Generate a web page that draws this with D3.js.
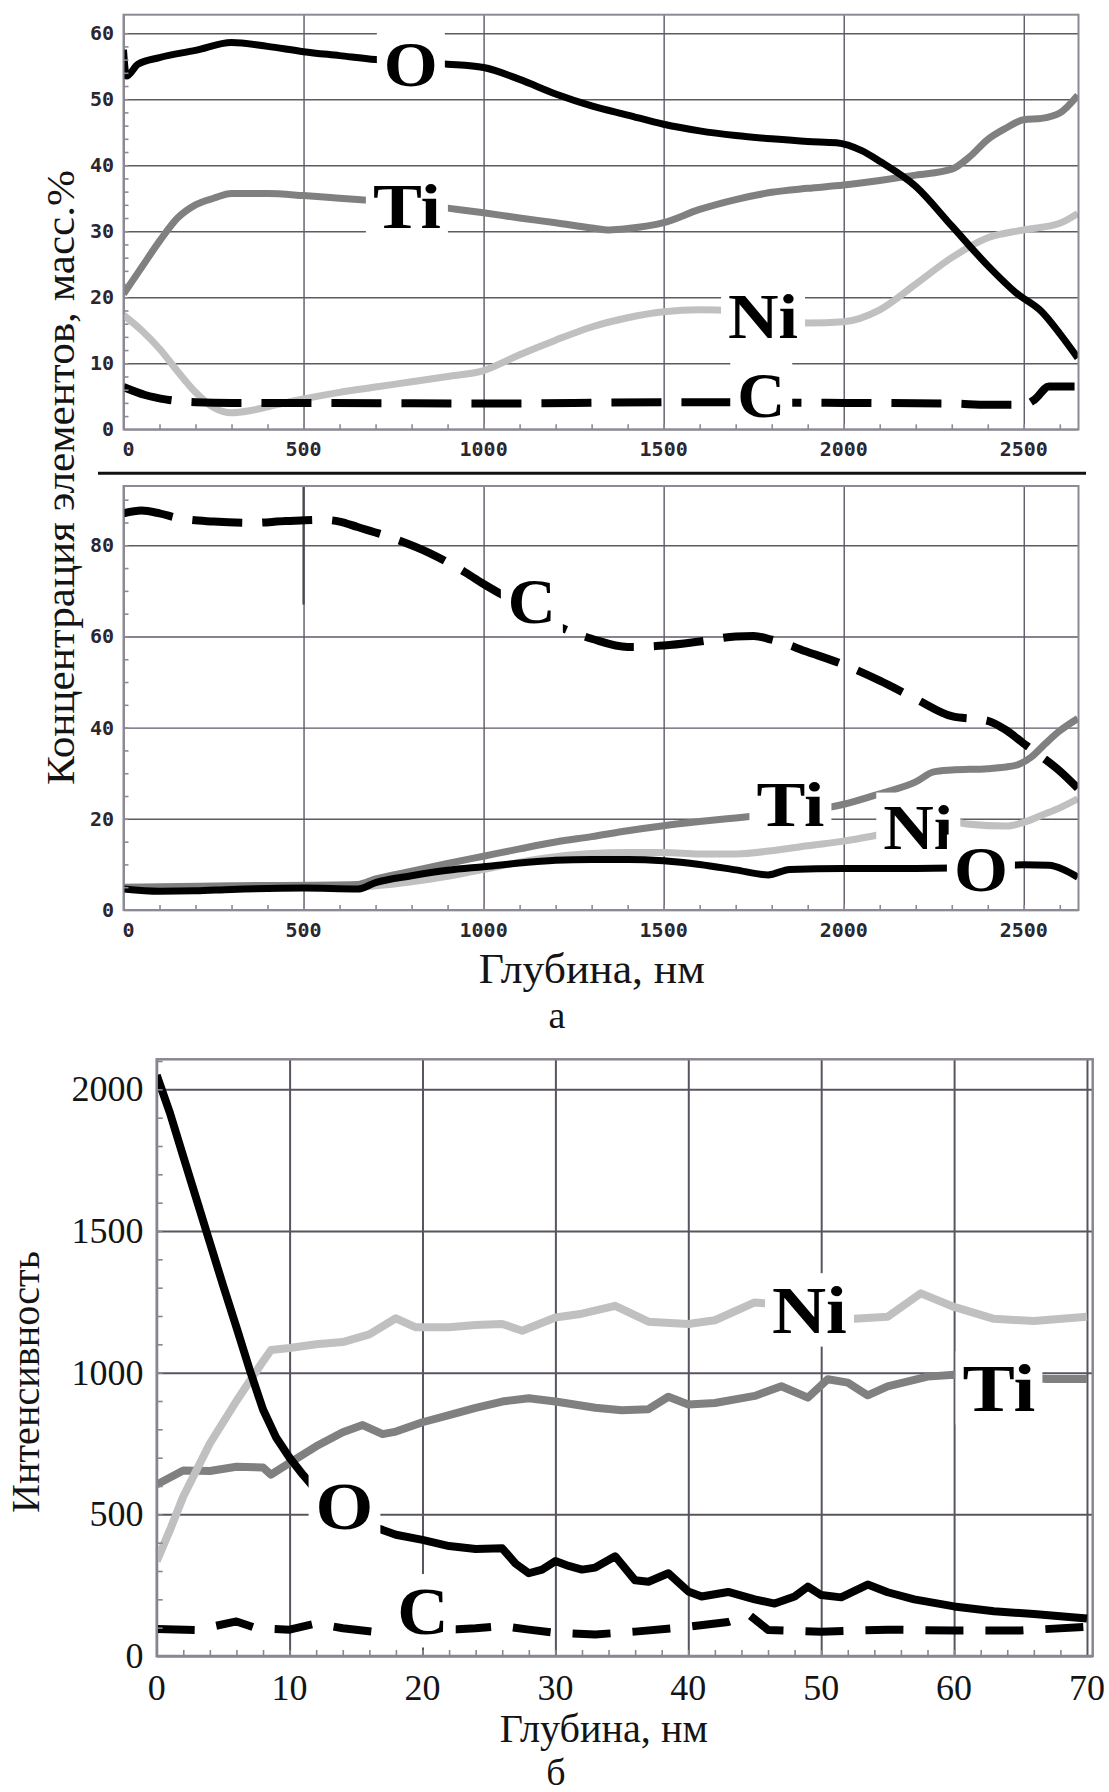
<!DOCTYPE html>
<html>
<head>
<meta charset="utf-8">
<script src="https://cdn.jsdelivr.net/npm/d3@7"></script>
<style>
  body { margin: 0; background: #fff; }
  svg { display: block; }
</style>
</head>
<body>
<svg id="fig" width="1109" height="1792"></svg>
<script>
// ---- (а) upper panel: mass concentration vs depth, nm ----
const topO  = [[0,57.5],[8,53.5],[40,55.3],[100,56.3],[200,57.4],[300,58.6],[400,58.0],[500,57.2],[600,56.6],[700,56.0],[800,55.6],[900,55.3],[1000,54.8],[1100,53.0],[1200,50.8],[1300,49.0],[1400,47.6],[1500,46.2],[1600,45.2],[1700,44.5],[1800,44.0],[1900,43.6],[1980,43.4],[2050,42.2],[2100,40.6],[2200,36.8],[2300,30.8],[2400,24.8],[2480,20.6],[2550,17.8],[2600,14.5],[2650,10.8]];
const topTi = [[0,20.5],[50,24.5],[100,28.5],[150,32.0],[200,34.0],[250,35.0],[300,35.7],[400,35.7],[500,35.4],[600,35.0],[700,34.6],[800,34.2],[900,33.5],[1000,32.8],[1100,32.0],[1200,31.3],[1300,30.5],[1350,30.2],[1400,30.4],[1500,31.3],[1600,33.3],[1700,34.8],[1800,35.9],[1900,36.5],[2000,37.0],[2100,37.7],[2200,38.5],[2300,39.4],[2350,41.3],[2400,43.9],[2450,45.6],[2500,46.9],[2550,47.1],[2600,47.9],[2650,50.6]];
const topNi = [[0,17.3],[50,15.0],[100,12.2],[150,8.8],[200,5.6],[250,3.3],[300,2.5],[350,2.8],[400,3.4],[500,4.6],[600,5.6],[700,6.4],[800,7.2],[900,8.0],[1000,8.9],[1100,11.3],[1200,13.5],[1300,15.5],[1400,16.9],[1500,17.8],[1600,18.1],[1700,17.9],[1800,17.0],[1900,16.1],[2000,16.3],[2100,18.1],[2200,22.0],[2300,26.0],[2400,29.0],[2500,30.2],[2600,31.2],[2650,32.7]];
const topC  = [[0,6.4],[60,5.2],[120,4.5],[200,4.1],[300,4.0],[500,4.0],[1000,3.9],[1500,4.1],[2000,4.0],[2300,3.9],[2400,3.7],[2500,3.7],[2530,4.5],[2570,6.5],[2650,6.5]];

// ---- (а) lower panel ----
const midC  = [[0,87.0],[50,87.6],[100,87.0],[150,86.0],[250,85.2],[350,84.9],[450,85.3],[550,85.6],[600,85.2],[650,84.0],[750,81.5],[850,78.3],[950,74.0],[1000,71.5],[1100,67.0],[1200,62.5],[1250,60.8],[1300,59.5],[1400,57.7],[1500,58.0],[1600,58.9],[1700,60.0],[1750,60.1],[1800,59.3],[1900,56.6],[2000,53.8],[2100,50.3],[2200,46.3],[2300,42.5],[2400,41.5],[2450,39.5],[2500,36.5],[2550,33.6],[2600,30.5],[2650,26.7]];
const midTi = [[0,5.0],[300,5.3],[650,5.6],[700,6.8],[800,8.5],[900,10.2],[1000,11.8],[1100,13.4],[1200,14.9],[1300,16.1],[1400,17.4],[1500,18.5],[1600,19.4],[1700,20.2],[1800,21.0],[1900,21.8],[2000,23.2],[2100,25.5],[2200,28.1],[2250,30.3],[2300,30.7],[2400,31.0],[2480,31.8],[2520,33.5],[2560,36.5],[2600,39.3],[2650,42.0]];
const midNi = [[0,4.9],[300,5.1],[650,5.0],[700,5.3],[800,6.2],[900,7.4],[1000,8.9],[1100,10.5],[1200,11.7],[1300,12.4],[1400,12.6],[1500,12.6],[1600,12.3],[1700,12.3],[1800,13.0],[1900,14.1],[2000,15.1],[2100,16.5],[2200,18.0],[2300,19.3],[2350,18.8],[2450,18.4],[2500,19.2],[2550,20.8],[2600,22.4],[2650,24.4]];
const midO  = [[0,4.6],[100,4.1],[200,4.2],[300,4.5],[500,4.8],[650,4.6],[700,6.0],[800,7.5],[900,8.7],[1000,9.5],[1100,10.3],[1200,10.9],[1300,11.1],[1400,11.1],[1500,10.8],[1600,10.0],[1700,8.8],[1790,7.7],[1850,8.9],[2000,9.1],[2200,9.1],[2300,9.2],[2400,9.6],[2500,9.9],[2570,9.8],[2610,8.9],[2650,7.2]];

// ---- (б) intensity vs depth, nm ----
const botO  = [[0,2050],[1,1916],[2,1763],[3,1611],[4,1459],[5,1307],[6,1160],[7,1010],[8,870],[9,770],[10,700],[11,640],[12,585],[13,540],[14,505],[15,480],[16,460],[17,445],[18,428],[20,410],[22,388],[24,378],[26,380],[27,326],[28,292],[29,305],[30,335],[31,318],[32,305],[33,312],[34.5,352],[36,267],[37,262],[38.5,292],[40,228],[41,210],[43,226],[45,200],[46.5,185],[48,210],[49,245],[50,215],[51.5,207],[53.5,252],[55,225],[57,200],[60,175],[63,158],[66,148],[68,140],[70,132]];
const botNi = [[0,335],[1,445],[2,563],[4,750],[6,900],[8,1040],[8.6,1080],[10,1087],[12,1100],[14,1108],[16,1135],[18,1192],[19.5,1160],[22,1160],[24,1168],[26,1172],[27.5,1148],[30,1195],[32,1208],[34.5,1236],[37,1180],[40,1172],[42,1185],[45,1248],[47,1240],[49,1215],[51,1200],[52.5,1190],[55,1197],[57.5,1280],[60,1232],[63,1190],[66,1182],[70,1197]];
const botTi = [[0,605],[2,655],[4,653],[6,668],[8,665],[8.6,640],[10,682],[12,740],[14,790],[15.5,815],[17,783],[18,792],[20,825],[22,850],[24,876],[26,898],[28,910],[30,898],[33,876],[35,867],[37,871],[38.5,915],[40,888],[42,893],[45,918],[47,952],[49,912],[50.5,977],[52,965],[53.5,920],[55,952],[58,986],[60,993],[63,988],[67,978],[70,978]];
const botC  = [[0,95],[3,92],[6,122],[7.5,98],[10,93],[12,115],[14,98],[17,82],[20,88],[24,98],[26,106],[28,93],[30,82],[33,76],[36,86],[40,103],[43,120],[44.6,145],[46,92],[50,86],[55,93],[60,90],[65,90],[70,103]];

// tick values
const depthTicksA = [0, 500, 1000, 1500, 2000, 2500];
const concTicksTop = [0, 10, 20, 30, 40, 50, 60];
const concTicksMid = [0, 20, 40, 60, 80];
const depthTicksB = [0, 10, 20, 30, 40, 50, 60, 70];
const intensTicks = [0, 500, 1000, 1500, 2000];

// element labels: [text, depth, value at baseline]
const labelsTop = [["O", 798, 52.0], ["Ti", 787, 30.5], ["Ni", 1776, 13.8], ["C", 1771, 1.9]];
const labelsMid = [["C", 1134, 62.9], ["Ti", 1852, 18.4], ["Ni", 2207, 13.4], ["O", 2381, 4.2]];
const labelsBot = [["O", 14.13, 448], ["C", 20.04, 78], ["Ni", 49.12, 1140], ["Ti", 63.38, 865]];

// darker marker segment on the 500 nm line of the lower (а) panel: [depth, from, to]
const midMarker = [500, 93, 67];

const svg = d3.select("#fig");

const style = {
  O:  { stroke: "#000000" },
  Ti: { stroke: "#808080" },
  Ni: { stroke: "#c0c0c0" },
  C:  { stroke: "#000000" }
};
const labelWidth = { O: 54, Ti: 68, Ni: 70, C: 48 };

function drawPanel(p) {
  const g = svg.append("g");
  const [xl, xr] = p.x.range();
  const [yb, yt] = p.y.range();
  const id = "clip" + p.name;
  svg.append("defs").append("clipPath").attr("id", id)
    .append("rect").attr("x", xl).attr("y", yt).attr("width", xr - xl).attr("height", yb - yt);

  // major grid
  g.append("g").attr("transform", `translate(0,${yb})`)
    .call(d3.axisBottom(p.x).tickValues(p.xMajor).tickSize(-(yb - yt)).tickFormat(""))
    .call(a => a.select(".domain").remove())
    .selectAll("line").attr("stroke", p.grid).attr("stroke-width", p.gridW);
  g.append("g").attr("transform", `translate(${xl},0)`)
    .call(d3.axisLeft(p.y).tickValues(p.yMajor).tickSize(-(xr - xl)).tickFormat(""))
    .call(a => a.select(".domain").remove())
    .selectAll("line").attr("stroke", p.grid).attr("stroke-width", p.gridW);

  if (p.marker) {
    g.append("line")
      .attr("x1", p.x(p.marker[0])).attr("x2", p.x(p.marker[0]))
      .attr("y1", p.y(p.marker[1])).attr("y2", p.y(p.marker[2]))
      .attr("stroke", "#4a4550").attr("stroke-width", 2.2);
  }

  // curves
  const line = d3.line().x(d => p.x(d[0])).y(d => p.y(d[1])).curve(p.curve);
  const lines = g.append("g").attr("clip-path", `url(#${id})`);
  p.series.forEach(s => {
    lines.append("path").datum(s.data)
      .attr("d", line)
      .attr("fill", "none")
      .attr("stroke", style[s.key].stroke)
      .attr("stroke-width", s.key === "C" ? p.dashW : p.lineW)
      .attr("stroke-dasharray", s.key === "C" ? p.dash : null)
      .attr("stroke-linejoin", "round");
  });

  // element labels on white boxes
  p.labels.forEach(([t, dx, dy]) => {
    const cx = p.x(dx), by = p.y(dy);
    const w = labelWidth[t] * p.labelScale;
    g.append("rect")
      .attr("x", cx - w / 2 - 7).attr("y", by - 0.88 * p.labelSize)
      .attr("width", w + 14).attr("height", 1.08 * p.labelSize)
      .attr("fill", "#fff");
    g.append("text")
      .attr("x", cx).attr("y", by)
      .attr("text-anchor", "middle")
      .attr("textLength", w).attr("lengthAdjust", "spacingAndGlyphs")
      .attr("font-family", "'Liberation Serif', 'Times New Roman', serif")
      .attr("font-weight", "bold")
      .attr("font-size", p.labelSize)
      .attr("fill", "#000")
      .text(t);
  });

  // frame
  g.append("rect").attr("x", xl).attr("y", yt).attr("width", xr - xl).attr("height", yb - yt)
    .attr("fill", "none").attr("stroke", p.frame).attr("stroke-width", p.frameW);

  // minor ticks
  g.append("g").attr("transform", `translate(0,${yb})`)
    .call(d3.axisBottom(p.x).tickValues(p.xMinor).tickSize(-p.minorLen).tickFormat(""))
    .call(a => a.select(".domain").remove())
    .selectAll("line").attr("stroke", p.frame).attr("stroke-width", 1.6);
  g.append("g").attr("transform", `translate(${xl},0)`)
    .call(d3.axisLeft(p.y).tickValues(p.yMinor).tickSize(-p.minorLen).tickFormat(""))
    .call(a => a.select(".domain").remove())
    .selectAll("line").attr("stroke", p.frame).attr("stroke-width", 1.6);

  // tick labels
  const tl = g.append("g")
    .attr("font-family", p.tickFont).attr("font-size", p.tickSize)
    .attr("font-weight", p.tickWeight).attr("fill", p.tickColor);
  p.xMajor.forEach(v => {
    tl.append("text")
      .attr("x", p.x(v) + (v === 0 && p.zeroStart ? -1 : 0))
      .attr("y", yb + p.xLabelDy)
      .attr("text-anchor", v === 0 && p.zeroStart ? "start" : "middle")
      .text(v);
  });
  p.yLabels.forEach(v => {
    tl.append("text")
      .attr("x", p.yLabelX).attr("y", p.y(v) + p.yLabelDy)
      .attr("text-anchor", "end")
      .text(v);
  });
  return g;
}

// shared depth scale for the two (а) panels
const xA = d3.scaleLinear().domain([0, 2652]).range([123.5, 1078.5]);

const monoStyle = {
  tickFont: "'DejaVu Sans Mono', monospace", tickSize: 20, tickWeight: "bold", tickColor: "#2b2630",
  grid: "#5f5866", gridW: 1.4, frame: "#8e8993", frameW: 2, minorLen: 5,
  lineW: 7, dashW: 8, dash: "50,20", curve: d3.curveMonotoneX,
  labelSize: 64, labelScale: 1, zeroStart: true, xLabelDy: 27, yLabelX: 114, yLabelDy: 7
};

drawPanel(Object.assign({}, monoStyle, {
  name: "top",
  x: xA, y: d3.scaleLinear().domain([0, 62.8]).range([429.3, 14.7]),
  xMajor: depthTicksA, yMajor: concTicksTop, yLabels: concTicksTop,
  xMinor: d3.range(100, 2651, 100), yMinor: d3.range(2, 62, 2),
  series: [{ key: "Ni", data: topNi }, { key: "Ti", data: topTi }, { key: "C", data: topC }, { key: "O", data: topO }],
  labels: labelsTop
}));

drawPanel(Object.assign({}, monoStyle, {
  name: "mid",
  x: xA, y: d3.scaleLinear().domain([0, 93]).range([910, 486]),
  xMajor: depthTicksA, yMajor: concTicksMid, yLabels: concTicksMid,
  xMinor: d3.range(100, 2651, 100), yMinor: d3.range(5, 93, 5),
  series: [{ key: "Ni", data: midNi }, { key: "Ti", data: midTi }, { key: "C", data: midC }, { key: "O", data: midO }],
  labels: labelsMid,
  marker: midMarker
}));

drawPanel({
  name: "bot",
  x: d3.scaleLinear().domain([0, 70.43]).range([156.7, 1092.7]),
  y: d3.scaleLinear().domain([0, 2106]).range([1656, 1059.3]),
  xMajor: depthTicksB, yMajor: intensTicks, yLabels: intensTicks,
  xMinor: d3.range(2, 70, 2), yMinor: d3.range(100, 2101, 100),
  series: [{ key: "Ti", data: botTi }, { key: "Ni", data: botNi }, { key: "C", data: botC }, { key: "O", data: botO }],
  labels: labelsBot,
  tickFont: "'Liberation Serif', 'Times New Roman', serif", tickSize: 36, tickWeight: "normal", tickColor: "#141414",
  grid: "#5a5360", gridW: 2, frame: "#8a8590", frameW: 2.5, minorLen: 6,
  lineW: 8, dashW: 8, dash: "38,22", curve: d3.curveLinear,
  labelSize: 68, labelScale: 1.07, zeroStart: false, xLabelDy: 44, yLabelX: 143.5, yLabelDy: 12
});

// separator between the two (а) panels
svg.append("line").attr("x1", 98).attr("x2", 1086).attr("y1", 473.3).attr("y2", 473.3)
  .attr("stroke", "#111").attr("stroke-width", 3);

// axis titles and panel letters
const serif = "'Liberation Serif', 'Times New Roman', serif";
function title(txt, x, y, size, len, rot) {
  const t = svg.append("text")
    .attr("font-family", serif).attr("font-size", size).attr("fill", "#141414")
    .attr("text-anchor", "middle")
    .attr("transform", `translate(${x},${y})` + (rot ? " rotate(-90)" : ""))
    .text(txt);
  if (len) t.attr("textLength", len).attr("lengthAdjust", "spacingAndGlyphs");
}
title("Концентрация элементов, масс.%", 73.5, 477.5, 40, 615, true);
title("Глубина, нм", 591.8, 983, 42, 226, false);
title("а", 557, 1028, 38, null, false);
title("Интенсивность", 39.3, 1382, 40, 262, true);
title("Глубина, нм", 603.8, 1742, 40, 208, false);
title("б", 556, 1785, 38, null, false);
</script>
</body>
</html>
